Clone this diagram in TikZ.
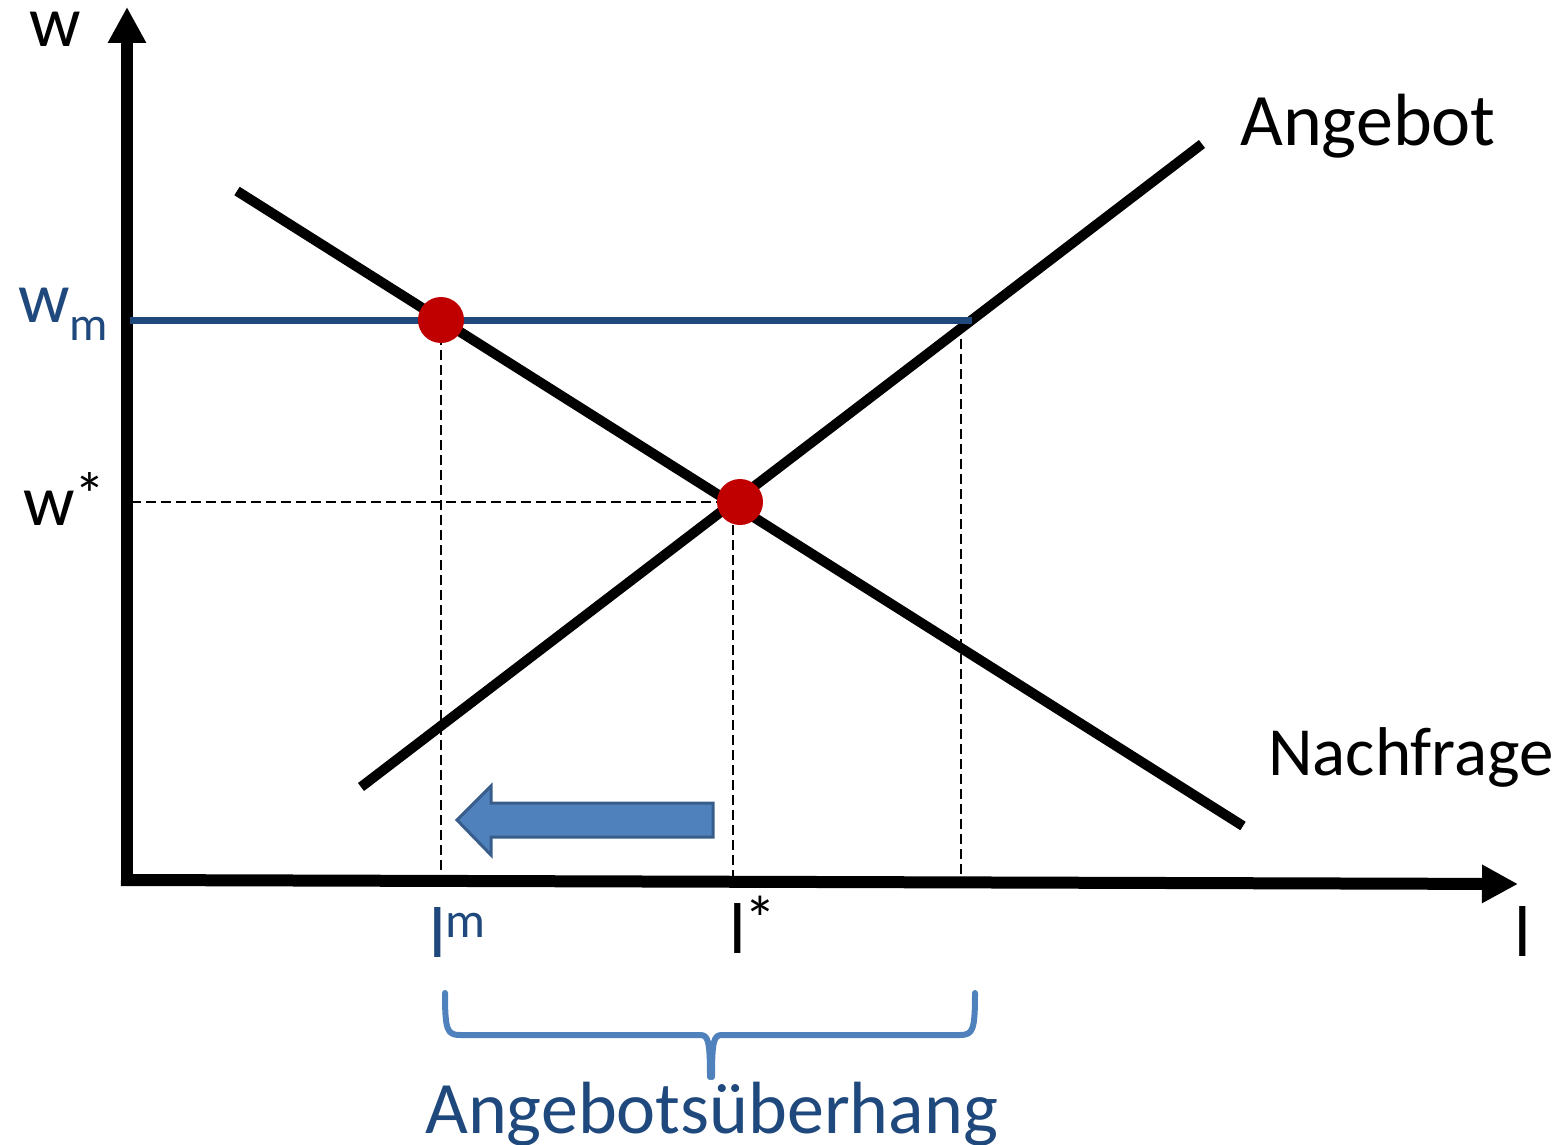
\documentclass[tikz,border=0pt]{standalone}
\usepackage{fontspec}
\setmainfont{Carlito}
\usetikzlibrary{arrows.meta}
\definecolor{dkblue}{RGB}{31,73,125}
\definecolor{medblue}{RGB}{79,129,189}
\definecolor{edgeblue}{RGB}{56,93,138}
\definecolor{dotred}{RGB}{192,0,0}
\begin{document}
\begin{tikzpicture}[x=1pt,y=-1pt,
 axis/.style={line width=12pt,-{Triangle[width=36pt,length=36pt]}},
 curve/.style={line width=10pt},
 guide/.style={line width=2pt,dash pattern=on 10pt off 5pt},
 dot/.style={circle,fill=dotred,minimum size=46pt,inner sep=0pt},
 lbl/.style={font=\fontsize{72}{80}\selectfont,inner sep=0pt,anchor=base west,text height=0.5em,text depth=0pt},
 wmline/.style={line width=7pt,draw=dkblue},
 bracestyle/.style={line width=6pt,draw=medblue,line cap=round,line join=round},
 blockarrow/.style={fill=medblue,draw=edgeblue,line width=3pt},
]
\useasboundingbox (0,0) rectangle (1564,1145);
% axes
\coordinate (ybot) at (127,886);
\coordinate (ytip) at (127,7);
\coordinate (xstart) at (121,880);
\coordinate (xtip) at (1518,884);
\draw[axis] (ybot) -- (ytip);
\draw[axis] (xstart) -- (xtip);
% guide coordinates
\coordinate (wmaxis) at (130,320);
\coordinate (wmend) at (972,320);
\coordinate (wsaxis) at (131,502);
\coordinate (lmfoot) at (441,880);
\coordinate (lsfoot) at (733,880);
\coordinate (lstop) at (733,525);
\coordinate (lsupfoot) at (961,880);
\coordinate (lsuptop) at (961,324);
% dots positions
\coordinate (pm) at (441,320);
\coordinate (ps) at (740,502);
% dashed guides
\draw[guide] (pm) -- (lmfoot);
\draw[guide] (lstop) -- (lsfoot);
\draw[guide] (lsuptop) -- (lsupfoot);
\draw[guide] (wsaxis) -- (ps);
% curves
\coordinate (d1) at (237,191);
\coordinate (d2) at (1243,826);
\coordinate (s1) at (361,787);
\coordinate (s2) at (1202,144);
\draw[curve] (d1) -- (d2);
\draw[curve] (s1) -- (s2);
% minimum wage line
\draw[wmline] (wmaxis) -- (wmend);
% dots
\node[dot] (dm) at (pm) {};
\node[dot] (ds) at (ps) {};
% block arrow
\draw[blockarrow] (457,820) -- (491,786) -- (491,803) -- (713,803) -- (713,837) -- (491,837) -- (491,855) -- cycle;
% brace
\draw[bracestyle] (445,993) .. controls (445,1030) and (447,1035) .. (460,1035) -- (700,1035) .. controls (708,1035) and (710,1040) .. (710,1077);
\draw[bracestyle] (975,993) .. controls (975,1030) and (973,1035) .. (960,1035) -- (722,1035) .. controls (714,1035) and (712,1040) .. (712,1077);
% labels
\node[lbl,anchor=base] (wlab) at (55,47) {w};
\node[lbl,text=dkblue] (wmlab) at (18,322) {w\raisebox{-18pt}{\fontsize{48}{52}\selectfont m}};
\node[lbl] (wslab) at (23,525) {w\raisebox{9pt}{\fontsize{62}{66}\selectfont *}};
\node[lbl,text=dkblue] (lmlab) at (429,957) {l\raisebox{20pt}{\fontsize{50}{54}\selectfont m}};
\node[lbl] (lslab) at (729,953) {l\kern-1pt\raisebox{12pt}{\fontsize{64}{68}\selectfont *}};
\node[lbl] (llab) at (1514,956) {l};
\node[lbl,font=\fontsize{74}{80}\selectfont] (angebot) at (1240,146) {Angebot};
\node[lbl,font=\fontsize{69}{76}\selectfont] (nachfrage) at (1268,775) {Nachfrage};
\node[lbl,text=dkblue,font=\fontsize{74}{80}\selectfont] (ueber) at (425,1133) {Angebotsüberhang};
\end{tikzpicture}
\end{document}
